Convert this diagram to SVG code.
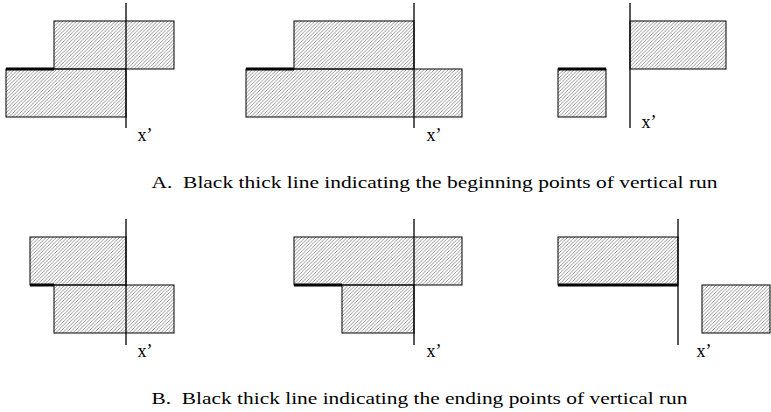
<svg xmlns="http://www.w3.org/2000/svg" width="771" height="412" viewBox="0 0 771 412">
<defs>
<pattern id="hatch" patternUnits="userSpaceOnUse" width="3.5" height="3.5">
<path d="M-1,1 L1,-1 M0,3.5 L3.5,0 M2.5,4.5 L4.5,2.5" stroke="#6a6a6a" stroke-width="0.7"/>
</pattern>
</defs>
<style>
.r{fill:url(#hatch);stroke:#000;stroke-width:1}
.v{stroke:#000;stroke-width:1.3}
.t{stroke:#000;stroke-width:3}
.lbl{font-family:"Liberation Serif",serif;font-size:18px;fill:#000}
.cap{font-family:"Liberation Serif",serif;font-size:17px;fill:#000}
</style>
<rect width="771" height="412" fill="#fff"/>
<g id="A1">
<rect class="r" x="54" y="21" width="120" height="48"/>
<rect class="r" x="6" y="69" width="120" height="48"/>
<line class="v" x1="126" y1="3" x2="126" y2="128"/>
<line class="t" x1="6" y1="69" x2="54" y2="69"/>
<text class="lbl" x="137.5" y="141">x’</text>
</g>
<g id="A2">
<rect class="r" x="294" y="21" width="120" height="48"/>
<rect class="r" x="246" y="69" width="216" height="48"/>
<line class="v" x1="414" y1="3" x2="414" y2="128"/>
<line class="t" x1="246" y1="69" x2="294" y2="69"/>
<text class="lbl" x="426.5" y="141">x’</text>
</g>
<g id="A3">
<rect class="r" x="558" y="69" width="48" height="48"/>
<rect class="r" x="630" y="21" width="96" height="48"/>
<line class="v" x1="630" y1="3" x2="630" y2="128"/>
<line class="t" x1="558" y1="69" x2="606" y2="69"/>
<text class="lbl" x="641.5" y="128">x’</text>
</g>
<text class="cap" x="151.5" y="187.5" xml:space="preserve" textLength="566" lengthAdjust="spacingAndGlyphs">A.  Black thick line indicating the beginning points of vertical run</text>
<g id="B1">
<rect class="r" x="30" y="237" width="96" height="48"/>
<rect class="r" x="54" y="285" width="120" height="48"/>
<line class="v" x1="126" y1="219" x2="126" y2="345"/>
<line class="t" x1="30" y1="285" x2="54" y2="285"/>
<text class="lbl" x="137.5" y="356.5">x’</text>
</g>
<g id="B2">
<rect class="r" x="294" y="237" width="168" height="48"/>
<rect class="r" x="342" y="285" width="72" height="48"/>
<line class="v" x1="414" y1="219" x2="414" y2="345"/>
<line class="t" x1="294" y1="285" x2="342" y2="285"/>
<text class="lbl" x="426.5" y="356.5">x’</text>
</g>
<g id="B3">
<rect class="r" x="558" y="237" width="120" height="48"/>
<rect class="r" x="702" y="285" width="68" height="48"/>
<line class="v" x1="678" y1="219" x2="678" y2="345"/>
<line class="t" x1="558" y1="285" x2="678" y2="285"/>
<text class="lbl" x="696.5" y="356.5">x’</text>
</g>
<text class="cap" x="151.5" y="403.5" xml:space="preserve" textLength="536" lengthAdjust="spacingAndGlyphs">B.  Black thick line indicating the ending points of vertical run</text>
</svg>
